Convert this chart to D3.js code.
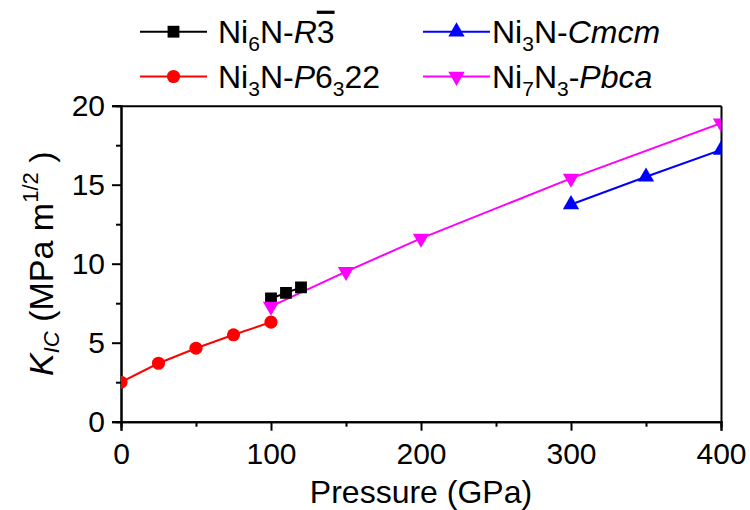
<!DOCTYPE html>
<html lang="en">
<head>
<meta charset="UTF-8">
<title>KIC vs Pressure</title>
<script src="https://cdnjs.cloudflare.com/ajax/libs/d3/7.8.5/d3.min.js"></script>
<style>
  body { margin: 0; background: #fff; }
  svg text { font-family: Arial, "Liberation Sans", sans-serif; fill: #000; }
  .axis path, .axis line { stroke: #000; stroke-width: 2; }
</style>
</head>
<body>
<div id="chart"></div>
<script>
// data
var ni6nP = [100, 110, 120],
    ni6nK = [7.8, 8.15, 8.5];
var p6322P = [0, 25, 50, 75, 100],
    p6322K = [2.5, 3.7, 4.65, 5.5, 6.3];
var cmcmP = [300, 350, 400],
    cmcmK = [13.75, 15.5, 17.2];
var pbcaP = [100, 150, 200, 300, 400],
    pbcaK = [7.3, 9.5, 11.6, 15.4, 18.9];
var xTicks = [0, 100, 200, 300, 400],
    xMinor = [50, 150, 250, 350];
var yTicks = [0, 5, 10, 15, 20],
    yMinor = [2.5, 7.5, 12.5, 17.5];

var w = 750, h = 510,
    padL = 121, padR = 721, padT = 105.7, padB = 421.7;

var svg = d3.select('#chart').append('svg')
    .attr('width', w)
    .attr('height', h);

var x = d3.scaleLinear().domain([0, 400]).range([padL, padR]);
var y = d3.scaleLinear().domain([0, 20]).range([padB, padT]);

function zip(ps, ks) { return ps.map(function (p, i) { return { p: p, k: ks[i] }; }); }

var series = [
  { name: 'ni6n', data: zip(ni6nP, ni6nK), color: '#000000', sym: d3.symbolSquare, size: 140, rot: 0 },
  { name: 'p6322', data: zip(p6322P, p6322K), color: '#ff0000', sym: d3.symbolCircle, size: 135, rot: 0 },
  { name: 'cmcm', data: zip(cmcmP, cmcmK), color: '#0000ff', sym: d3.symbolTriangle, size: 115, rot: 0 },
  { name: 'pbca', data: zip(pbcaP, pbcaK), color: '#ff00ff', sym: d3.symbolTriangle, size: 115, rot: 180 }
];

// clip
svg.append('clipPath').attr('id', 'plotClip')
  .append('rect')
  .attr('x', padL).attr('y', padT)
  .attr('width', padR - padL).attr('height', padB - padT);

// AXES
var xMinorAxis = d3.axisBottom(x).tickValues(xMinor).tickSize(5).tickFormat('');
svg.append('g').attr('class', 'axis')
  .attr('transform', 'translate(0,' + padB + ')')
  .call(xMinorAxis);
var xAxis = d3.axisBottom(x).tickValues(xTicks).tickSize(9).tickPadding(12).tickFormat(d3.format('d'));
svg.append('g').attr('class', 'axis')
  .attr('transform', 'translate(0,' + padB + ')')
  .call(xAxis)
  .style('font-size', '30px');

var yMinorAxis = d3.axisLeft(y).tickValues(yMinor).tickSize(5).tickFormat('');
svg.append('g').attr('class', 'axis')
  .attr('transform', 'translate(' + padL + ',0)')
  .call(yMinorAxis);
var yAxis = d3.axisLeft(y).tickValues(yTicks).tickSize(9).tickPadding(7).tickFormat(d3.format('d'));
svg.append('g').attr('class', 'axis')
  .attr('transform', 'translate(' + padL + ',0)')
  .call(yAxis)
  .style('font-size', '30px');

svg.selectAll('.axis text').attr('font-family', null);

// top / right frame
svg.append('g').attr('class', 'axis')
  .attr('transform', 'translate(0,' + padT + ')')
  .call(d3.axisTop(x).tickValues([]).tickSizeOuter(0));
svg.append('g').attr('class', 'axis')
  .attr('transform', 'translate(' + padR + ',0)')
  .call(d3.axisRight(y).tickValues([]).tickSizeOuter(0));

// LINES + MARKERS
var line = d3.line().x(function (d) { return x(d.p); }).y(function (d) { return y(d.k); });
var plot = svg.append('g').attr('clip-path', 'url(#plotClip)');

series.forEach(function (s) {
  plot.append('path')
    .datum(s.data)
    .attr('d', line)
    .attr('fill', 'none')
    .attr('stroke', s.color)
    .attr('stroke-width', 2);
});
series.forEach(function (s) {
  plot.selectAll('.m-' + s.name)
    .data(s.data)
    .enter()
    .append('path')
    .attr('class', 'm-' + s.name)
    .attr('d', d3.symbol().type(s.sym).size(s.size))
    .attr('transform', function (d) {
      return 'translate(' + x(d.p) + ',' + y(d.k) + ') rotate(' + s.rot + ')';
    })
    .attr('fill', s.color);
});

// AXIS TITLES
svg.append('text')
  .attr('x', (padL + padR) / 2)
  .attr('y', 503)
  .attr('text-anchor', 'middle')
  .style('font-size', '32px')
  .text('Pressure (GPa)');

var yTitle = svg.append('text')
  .attr('transform', 'translate(53,' + ((padT + padB) / 2) + ') rotate(-90)')
  .attr('text-anchor', 'middle')
  .style('font-size', '34px');
yTitle.append('tspan').style('font-style', 'italic').text('K');
yTitle.append('tspan').style('font-style', 'italic').style('font-size', '22px').attr('dy', 6).text('IC');
yTitle.append('tspan').attr('dy', -6).text(' (MPa m');
yTitle.append('tspan').style('font-size', '22px').attr('dy', -15).text('1/2');
yTitle.append('tspan').attr('dy', 15).text(' )');

// LEGEND
var legendItems = [
  { s: series[0], lx: 140, ly: 31.7, tx: 218 },
  { s: series[1], lx: 140, ly: 76.5, tx: 218 },
  { s: series[2], lx: 423, ly: 31.7, tx: 492 },
  { s: series[3], lx: 423, ly: 76.5, tx: 492 }
];
var legend = svg.append('g');
legendItems.forEach(function (it) {
  legend.append('line')
    .attr('x1', it.lx).attr('x2', it.lx + 67)
    .attr('y1', it.ly).attr('y2', it.ly)
    .attr('stroke', it.s.color).attr('stroke-width', 2);
  legend.append('path')
    .attr('d', d3.symbol().type(it.s.sym).size(it.s.size))
    .attr('transform', 'translate(' + (it.lx + 33.5) + ',' + it.ly + ') rotate(' + it.s.rot + ')')
    .attr('fill', it.s.color);
});

function legendText(it) {
  return legend.append('text')
    .attr('x', it.tx)
    .attr('y', it.ly + 11)
    .style('font-size', '32px');
}
function sub(t, txt) {
  t.append('tspan').style('font-size', '21px').attr('dy', 8).text(txt);
  return t;
}

var t0 = legendText(legendItems[0]);
t0.append('tspan').text('Ni');
sub(t0, '6');
t0.append('tspan').attr('dy', -8).text('N-');
t0.append('tspan').style('font-style', 'italic').text('R');
t0.append('tspan').style('text-decoration', 'overline').text('3');

var t1 = legendText(legendItems[1]);
t1.append('tspan').text('Ni');
sub(t1, '3');
t1.append('tspan').attr('dy', -8).text('N-');
t1.append('tspan').style('font-style', 'italic').text('P');
t1.append('tspan').text('6');
sub(t1, '3');
t1.append('tspan').attr('dy', -8).text('22');

var t2 = legendText(legendItems[2]);
t2.append('tspan').text('Ni');
sub(t2, '3');
t2.append('tspan').attr('dy', -8).text('N-');
t2.append('tspan').style('font-style', 'italic').text('Cmcm');

var t3 = legendText(legendItems[3]);
t3.append('tspan').text('Ni');
sub(t3, '7');
t3.append('tspan').attr('dy', -8).text('N');
sub(t3, '3');
t3.append('tspan').attr('dy', -8).text('-');
t3.append('tspan').style('font-style', 'italic').text('Pbca');
</script>
</body>
</html>
